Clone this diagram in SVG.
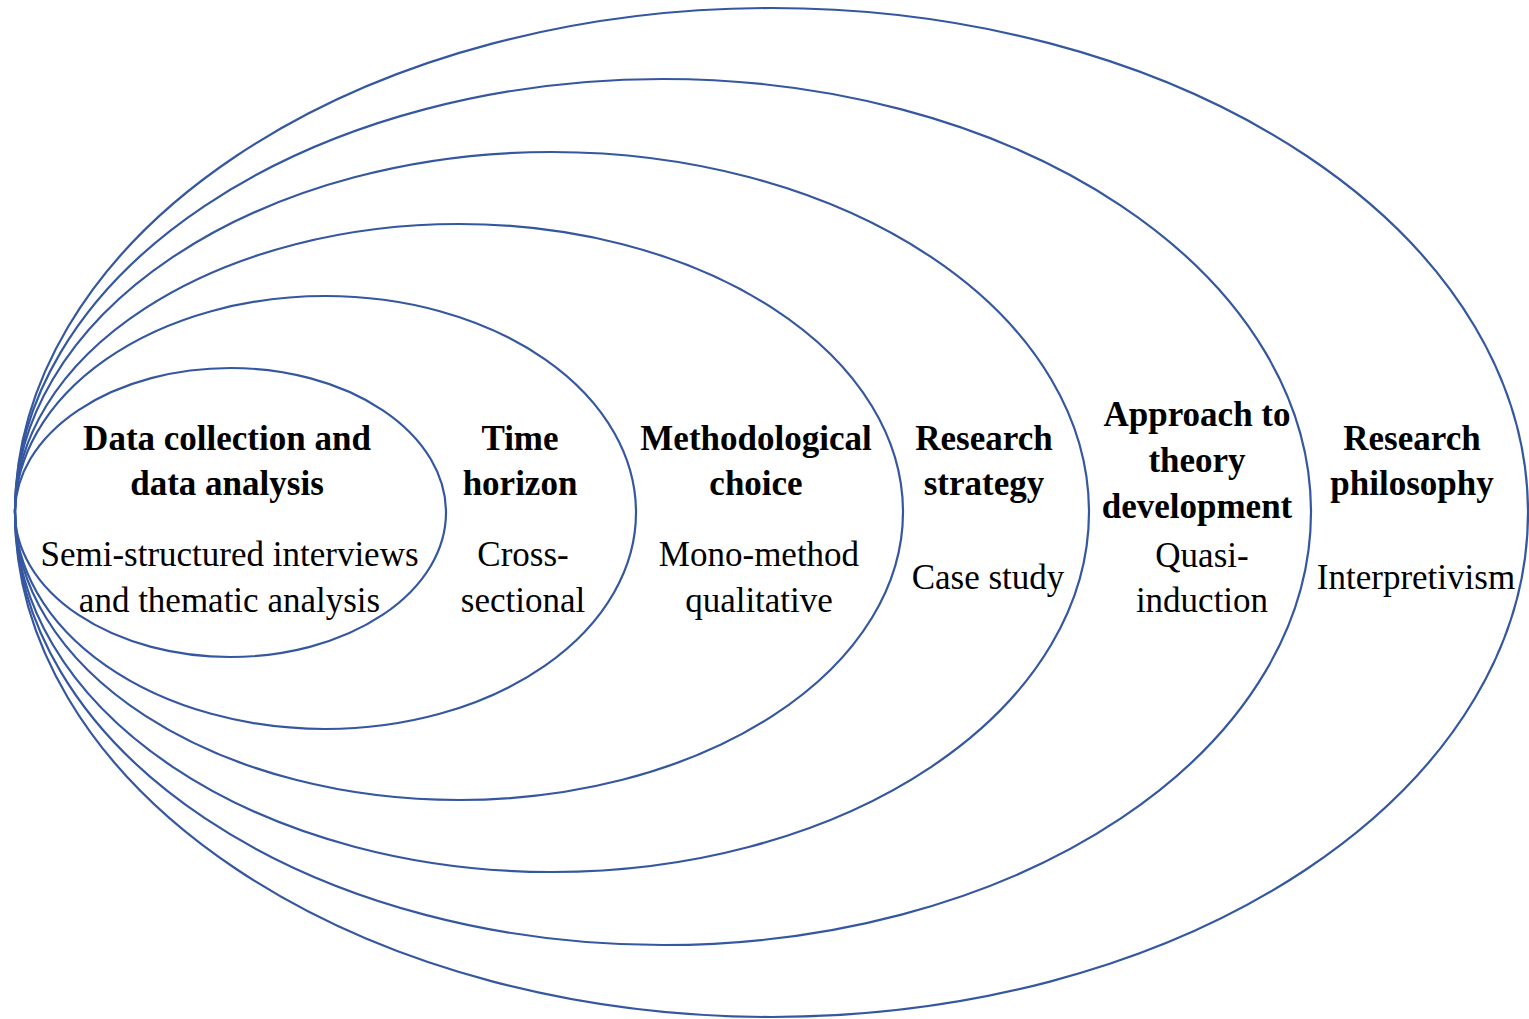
<svg xmlns="http://www.w3.org/2000/svg" width="1529" height="1019" viewBox="0 0 1529 1019">
<style>
.ring{fill:none;stroke:#3557A0;stroke-width:2.2}
text{font-family:"Liberation Serif","Times New Roman",serif;font-size:35px;fill:#000;text-anchor:middle}
.b{font-weight:bold}
</style>
<rect width="1529" height="1019" fill="#fff"/>
<g id="philosophy">
<ellipse class="ring" cx="771.5" cy="512.5" rx="756.5" ry="504.5"/>
<text class="b" x="1412" y="450">Research</text>
<text class="b" x="1412" y="495">philosophy</text>
<text x="1416" y="589">Interpretivism</text>
</g>
<g id="approach">
<ellipse class="ring" cx="663" cy="512" rx="648" ry="433"/>
<text class="b" x="1197" y="426">Approach to</text>
<text class="b" x="1197" y="472">theory</text>
<text class="b" x="1197" y="518">development</text>
<text x="1202" y="567">Quasi-</text>
<text x="1202" y="612">induction</text>
</g>
<g id="strategy">
<ellipse class="ring" cx="552" cy="512" rx="537" ry="360"/>
<text class="b" x="984" y="450">Research</text>
<text class="b" x="984" y="495">strategy</text>
<text x="988" y="589">Case study</text>
</g>
<g id="choice">
<ellipse class="ring" cx="459" cy="512" rx="444" ry="288"/>
<text class="b" x="756" y="450">Methodological</text>
<text class="b" x="756" y="495">choice</text>
<text x="759" y="566">Mono-method</text>
<text x="759" y="612">qualitative</text>
</g>
<g id="time">
<ellipse class="ring" cx="325.5" cy="512.5" rx="310.5" ry="216.5"/>
<text class="b" x="520" y="450">Time</text>
<text class="b" x="520" y="495">horizon</text>
<text x="523" y="566">Cross-</text>
<text x="523" y="612">sectional</text>
</g>
<g id="data">
<ellipse class="ring" cx="230.5" cy="512.5" rx="215.5" ry="144.5"/>
<text class="b" x="227" y="450">Data collection and</text>
<text class="b" x="227" y="495">data analysis</text>
<text x="229.5" y="566">Semi-structured interviews</text>
<text x="229.5" y="612">and thematic analysis</text>
</g>
<g id="connectors"/>
</svg>
